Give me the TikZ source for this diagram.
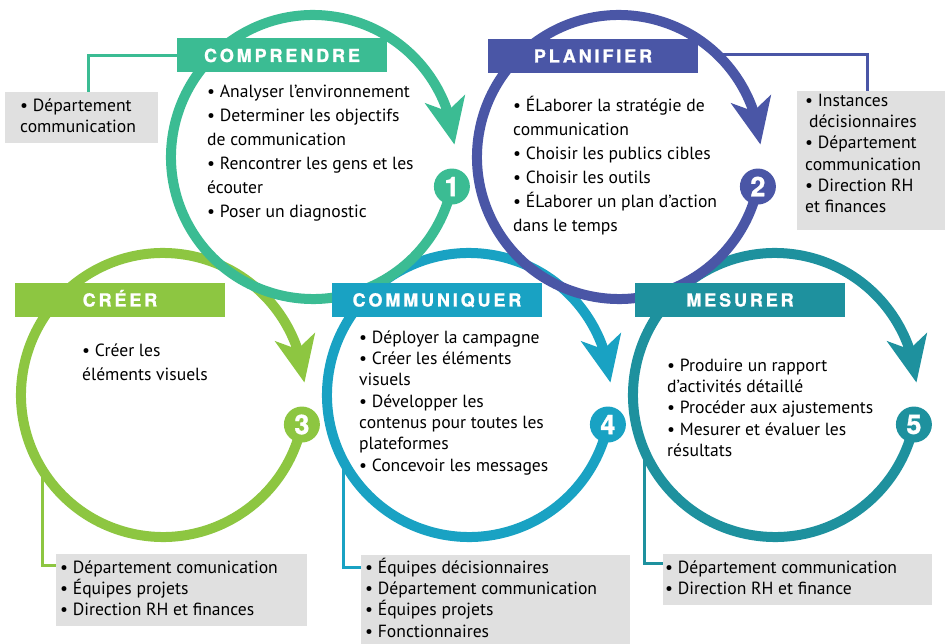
\documentclass[tikz,border=0pt]{standalone}
\usepackage{fontspec}
\setmainfont{PT Sans}
\newfontfamily\titlefont[LetterSpace=16,FakeBold=1.2]{TeX Gyre Heros}
\newfontfamily\numfont[FakeBold=1.2]{TeX Gyre Heros}
\usetikzlibrary{arrows.meta,bending,calc}
\definecolor{cA}{HTML}{3BBC93}
\definecolor{cB}{HTML}{4A56A6}
\definecolor{cC}{HTML}{8DC641}
\definecolor{cD}{HTML}{19A2C3}
\definecolor{cE}{HTML}{1E919E}
\definecolor{boxgray}{HTML}{E0E0E0}
\begin{document}
\begin{tikzpicture}[x=1pt,y=1pt,
 ring/.style={line width=10pt, -{Stealth[length=46pt,width=40pt,inset=12pt]}},
 banner/.style={minimum width=210pt, minimum height=34pt, inner sep=0pt, text=white, text height=13pt, text depth=0pt, font=\titlefont\bfseries\fontsize{18}{18}\selectfont},
 badge/.style={circle, minimum size=36pt, inner sep=0pt, text=white, font=\numfont\bfseries\fontsize{27}{27}\selectfont},
 body/.style={anchor=north west, inner sep=0pt, align=left, font=\fontsize{17.6}{24}\selectfont},
 bodyt/.style={anchor=north west, inner sep=0pt, align=left, font=\fontsize{17.6}{21.3}\selectfont},
 gbox/.style={fill=boxgray, anchor=north west, inner sep=0pt},
 conn/.style={line width=3pt},
]
\useasboundingbox (0,0) rectangle (945,-644);
\def\st{\rule{0pt}{16pt}}
% circle centres
\coordinate (C1) at (313,-157);
\coordinate (C2) at (619,-157);
\coordinate (C3) at (163,-395);
\coordinate (C4) at (469,-395);
\coordinate (C5) at (775,-395);
% connector start points on rings
\coordinate (p2) at ($(C2)+(46:142)$);
\coordinate (p3) at ($(C3)+(211.6:142)$);
\coordinate (p4) at ($(C4)+(207.5:142)$);
\coordinate (p5) at ($(C5)+(203.7:142)$);
% gray boxes
\node[gbox, minimum width=153pt, minimum height=51pt] (g1) at (5,-92) {};
\node[gbox, minimum width=148pt, minimum height=139pt] (g2) at (797,-91) {};
\node[gbox, minimum width=251pt, minimum height=72pt] (g3) at (56,-554) {};
\node[gbox, minimum width=269pt, minimum height=89pt] (g4) at (361,-555) {};
\node[gbox, minimum width=269pt, minimum height=51pt] (g5) at (663,-554) {};
% connectors
\coordinate (t1w) at (177,-55.5);
\draw[conn, cA] (t1w) -| ($(g1.north west)+(83,0)$);
\draw[conn, cB] (p2) -| ($(g2.north west)+(70,0)$);
\draw[conn, cC] (p3) |- ($(g3.north west)+(0,-11)$);
\draw[conn, cD] (p4) |- ($(g4.north west)+(0,-12)$);
\draw[conn, cE] (p5) |- ($(g5.north west)+(0,-9)$);
% boxes again on top of connector ends
\fill[boxgray] (g1.north west) rectangle (g1.south east);
\fill[boxgray] (g2.north west) rectangle (g2.south east);
\fill[boxgray] (g3.north west) rectangle (g3.south east);
\fill[boxgray] (g4.north west) rectangle (g4.south east);
\fill[boxgray] (g5.north west) rectangle (g5.south east);
% rings: bottom row first
\draw[ring, cC] ($(C3)+(-12:142)$) arc[start angle=-12, end angle=-355, radius=142];
\draw[ring, cD] ($(C4)+(-12:142)$) arc[start angle=-12, end angle=-355, radius=142];
\draw[ring, cE] ($(C5)+(-12:142)$) arc[start angle=-12, end angle=-355, radius=142];
\draw[ring, cA] ($(C1)+(-12:142)$) arc[start angle=-12, end angle=-355, radius=142];
\draw[ring, cB] ($(C2)+(-12:142)$) arc[start angle=-12, end angle=-355, radius=142];
% banners
\node[banner, fill=cA] (t1) at (282,-55.5) {COMPRENDRE};
\node[banner, fill=cB] (t2) at (593,-56) {PLANIFIER};
\node[banner, fill=cC] (t3) at (120,-300) {CRÉER};
\node[banner, fill=cD] (t4) at (437,-300) {COMMUNIQUER};
\node[banner, fill=cE] (t5) at (740,-300) {MESURER};
% badges
\node[badge, fill=cA] (n1) at ($(C1)+(-12:142)$) {1};
\node[badge, fill=cB] (n2) at ($(C2)+(-12:142)$) {2};
\node[badge, fill=cC] (n3) at ($(C3)+(-12:142)$) {3};
\node[badge, fill=cD] (n4) at ($(C4)+(-12:142)$) {4};
\node[badge, fill=cE] (n5) at ($(C5)+(-12:142)$) {5};
% ring texts
\node[body] (x1) at (207,-81) {\st• Analyser l’environnement\\• Determiner les objectifs\\de communication\\• Rencontrer les gens et les\\écouter\\• Poser un diagnostic};
\node[body] (x2) at (513,-95) {\st• ÉLaborer la stratégie de\\communication\\• Choisir les publics cibles\\• Choisir les outils\\• ÉLaborer un plan d’action\\dans le temps};
\node[body] (x3) at (82,-340) {\st• Créer les\\éléments visuels};
\node[bodyt] (x4) at (359,-327) {\st• Déployer la campagne\\• Créer les éléments\\visuels\\• Développer les\\contenus pour toutes les\\plateformes\\• Concevoir les messages};
\node[bodyt] (x5) at (667,-355) {\st• Produire un rapport\\d’activités détaillé\\• Procéder aux ajustements\\• Mesurer et évaluer les\\résultats};
% gray box texts
\node[bodyt] (y1) at (20,-95) {\st• Département\\communication};
\node[bodyt] (y2) at (805,-90) {\st• Instances\\\hspace{4pt}décisionnaires\\• Département\\communication\\• Direction RH\\et finances};
\node[bodyt] (y3) at (60,-557) {\st• Département comunication\\• Équipes projets\\• Direction RH et finances};
\node[bodyt] (y4) at (365,-557) {\st• Équipes décisionnaires\\• Département communication\\• Équipes projets\\• Fonctionnaires};
\node[bodyt] (y5) at (665,-557) {\st• Département communication\\• Direction RH et finance};
\end{tikzpicture}
\end{document}
